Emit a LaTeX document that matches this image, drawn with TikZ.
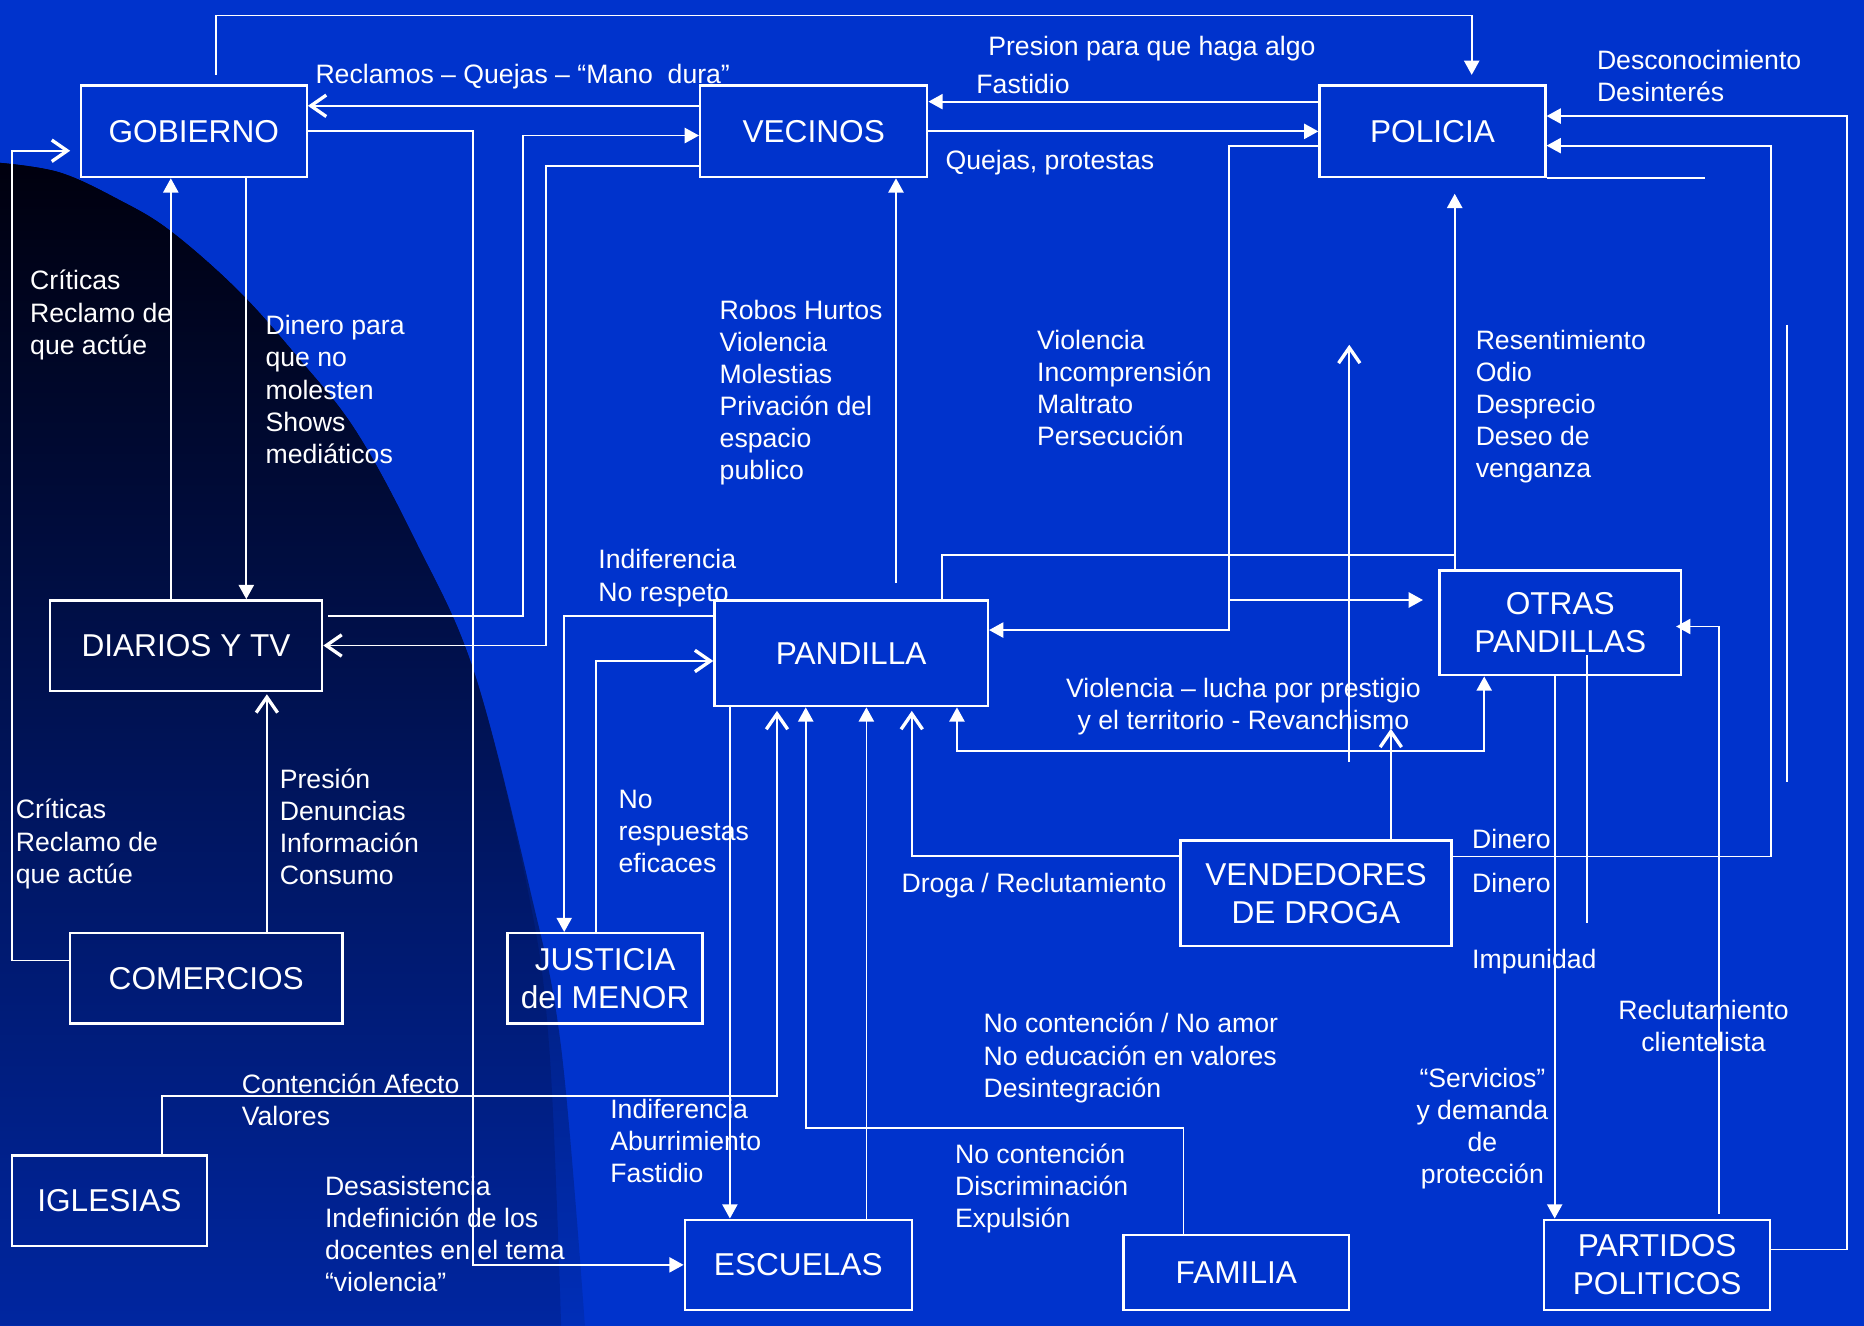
\documentclass[tikz,border=0pt]{standalone}
\usepackage{fontspec}
\setmainfont{Liberation Sans}
\usetikzlibrary{arrows.meta}
\definecolor{bgblue}{RGB}{0,51,204}
\definecolor{darkA}{RGB}{0,0,14}
\definecolor{darkB}{RGB}{0,18,82}
\definecolor{darkC}{RGB}{0,46,184}
\definecolor{darkD}{RGB}{0,38,160}
\tikzset{
  box/.style={draw=white, line width=1pt, text=white, align=center, inner sep=0pt,
    font=\fontsize{13.3}{16}\selectfont},
  lbl/.style={anchor=north west, inner sep=0pt, align=left, text=white,
    font=\fontsize{11.2}{13.5}\selectfont},
  lblc/.style={anchor=north, inner sep=0pt, align=center, text=white,
    font=\fontsize{11.2}{13.5}\selectfont},
  conn/.style={draw=white, line width=0.75pt},
  fa/.style={conn, -{Triangle[length=6pt,width=6.4pt]}},
  fab/.style={conn, {Triangle[length=6pt,width=6.4pt]}-{Triangle[length=6pt,width=6.4pt]}},
  oa/.style={conn, -{Straight Barb[length=6.5pt,width=9pt,line width=1.4pt]}}
}
\begin{document}
\begin{tikzpicture}[x=0.5pt,y=-0.5pt]
\useasboundingbox (0,0) rectangle (1568,1115);
\fill[bgblue] (0,0) rectangle (1568,1115);
\shade[top color=darkA, middle color=darkB, bottom color=darkC]
  plot[smooth, tension=0.6] coordinates {(0,137) (50,145) (100,168) (143,194) (200,244) (250,300) (299,362) (349,454) (399,566) (446,749) (472,881) (492,1115)}
  -- (0,1115) -- cycle;
\shade[top color=darkA, middle color=darkB, bottom color=darkD]
  plot[smooth, tension=0.6] coordinates {(0,137) (50,145) (100,168) (143,194) (200,244) (250,300) (299,362) (349,454) (399,566) (444,749) (462,881) (472,1115)}
  -- (0,1115) -- cycle;

% boxes
\node[box, minimum width=95pt,   minimum height=38.5pt] (gob) at (163,110.5) {GOBIERNO};
\node[box, minimum width=95.5pt, minimum height=38.5pt] (vec) at (684.5,110.5) {VECINOS};
\node[box, minimum width=95pt,   minimum height=38.5pt] (pol) at (1205,110.5) {POLICIA};
\node[box, minimum width=114.5pt, minimum height=38pt] (dia) at (156.5,543) {DIARIOS Y TV};
\node[box, minimum width=115pt,  minimum height=44.5pt] (pan) at (716,549.5) {PANDILLA};
\node[box, minimum width=101.5pt, minimum height=44pt] (otr) at (1312.5,524) {OTRAS\\PANDILLAS};
\node[box, minimum width=114pt,  minimum height=44.5pt] (ven) at (1107,751.5) {VENDEDORES\\DE DROGA};
\node[box, minimum width=114.5pt, minimum height=38pt] (com) at (173.5,823) {COMERCIOS};
\node[box, minimum width=82pt,   minimum height=38pt] (jus) at (509,823) {JUSTICIA\\del MENOR};
\node[box, minimum width=82pt,   minimum height=38pt] (igl) at (92,1010) {IGLESIAS};
\node[box, minimum width=95.5pt, minimum height=38pt] (esc) at (671.5,1064) {ESCUELAS};
\node[box, minimum width=95pt,   minimum height=31.5pt] (fam) at (1040,1070.5) {FAMILIA};
\node[box, minimum width=95pt,   minimum height=38pt] (par) at (1394,1064) {PARTIDOS\\POLITICOS};

% free ends
\coordinate (brA) at (1034,504.7);
\coordinate (s1a) at (1135,641);
\coordinate (s1b) at (1135,290);
\coordinate (s2a) at (1503,273);
\coordinate (s2b) at (1503,658);
\coordinate (s3a) at (1335,551);
\coordinate (s3b) at (1335,776);

% connectors
\draw[fa] ([xshift=9.5pt,yshift=4pt]gob.north) -- ++(0,-50) -| ([xshift=16.5pt,yshift=4pt]pol.north);
\draw[fa] ([yshift=12.5pt]pol.west) -- ([yshift=12.5pt]vec.east);
\draw[fa] (vec.east) -- (pol.west);
\draw[oa] ([yshift=10.75pt]vec.west) -- ([yshift=10.75pt]gob.east);
\draw[fa] (gob.east) -- (398,110.5) |- (esc.west);
\draw[fa] ([xshift=2pt,yshift=12.5pt]dia.east) -- (440,518) |- ([yshift=-1.75pt]vec.west);
\draw[oa] ([yshift=-14.5pt]vec.west) -- (459,139.5) |- (dia.east);
\draw[fa] ([xshift=-6.4pt]dia.north) -- ([xshift=-6.4pt]dia.north |- gob.south);
\draw[fa] ([xshift=22.1pt]gob.south) -- ([xshift=22.1pt]gob.south |- dia.north);
\draw[oa] ([yshift=7.5pt]com.west) -- (10,808) |- ([xshift=-4pt,yshift=-8.15pt]gob.west);
\draw[oa] ([xshift=25.5pt]com.north) -- ([xshift=25.5pt,yshift=-1pt]com.north |- dia.south);
\draw[fa] ([xshift=18.85pt,yshift=6.75pt]pan.north) -- ([xshift=18.85pt]pan.north |- vec.south);
\draw[fa] ([yshift=-6.25pt]pol.west) -- (1034,123) |- ([yshift=9.75pt]pan.east);
\draw[fa] (brA) -- ([xshift=-6.5pt,yshift=9.65pt]otr.west);
\draw[fa] ([xshift=-44.4pt]otr.north) -- ([xshift=9.35pt,yshift=-6.5pt]pol.south);
\draw[conn] ([xshift=38.25pt]pan.north) |- (1223.7,467);
\draw[oa] (s1a) -- (s1b);
\draw[fab] ([xshift=44.5pt]pan.south) |- (1248.5,632) -| ([xshift=-32pt]otr.south);
\draw[oa] ([xshift=31.5pt]ven.north) -- ++(0,-93);
\draw[oa] ([yshift=15.75pt]ven.west) -| ([xshift=25.5pt,yshift=-1.5pt]pan.south);
\draw[fa] ([yshift=15.5pt]ven.east) -- (1490,720.5) |- ([yshift=-6pt]pol.east);
\draw[fa] ([yshift=6.5pt]par.east) -- (1554,1051) |- ([yshift=6.45pt]pol.east);
\draw[conn] (pol.south east) -- ++(133,0);
\draw[conn] (s2a) -- (s2b);
\draw[fa] ([xshift=-2.35pt]otr.south) -- ([xshift=-2.35pt]otr.south |- par.north);
\draw[conn] (s3a) -- (s3b);
\draw[fa] ([xshift=26pt,yshift=2pt]par.north) |- ([xshift=-2.5pt,yshift=-1.5pt]otr.east);
\draw[fa] ([yshift=15.75pt]pan.west) -| ([xshift=-17.2pt]jus.north);
\draw[oa] ([xshift=-3.7pt]jus.north) |- ([yshift=-3.25pt]pan.west);
\draw[fa] ([xshift=-51pt]pan.south) -- ([xshift=-51pt]pan.south |- esc.north);
\draw[fa] ([xshift=28.65pt]esc.north) -- ([xshift=28.65pt]esc.north |- pan.south);
\draw[oa] ([xshift=22.2pt]igl.north) |- (653.6,922) -- ([xshift=-31.2pt,yshift=-1.5pt]pan.south);
\draw[fa] ([xshift=-22.2pt]fam.north) |- (677.8,949) -- ([xshift=-19.1pt]pan.south);

% labels
\node[lbl] (l1) at (265,54) {Reclamos – Quejas – “Mano~ dura”};
\node[lbl] (l2) at (831,30) {Presion para que haga algo};
\node[lbl] (l3) at (821,62) {Fastidio};
\node[lbl] (l4) at (795,126) {Quejas, protestas};
\node[lbl] (l5) at (1343,42) {Desconocimiento\\Desinterés};
\node[lbl] (l6) at (25,227) {Críticas\\Reclamo de\\que actúe};
\node[lbl] (l7) at (223,265) {Dinero para\\que no\\molesten\\Shows\\mediáticos};
\node[lbl] (l8) at (605,252) {Robos Hurtos\\Violencia\\Molestias\\Privación del\\espacio\\publico};
\node[lbl] (l9) at (872,277) {Violencia\\Incomprensión\\Maltrato\\Persecución};
\node[lbl] (l10) at (1241,277) {Resentimiento\\Odio\\Desprecio\\Deseo de\\venganza};
\node[lbl] (l11) at (503,462) {Indiferencia\\No respeto};
\node[lblc] (l12) at (1046,570) {Violencia – lucha por prestigio\\y el territorio - Revanchismo};
\node[lbl] (l13) at (13,672) {Críticas\\Reclamo de\\que actúe};
\node[lbl] (l14) at (235,646) {Presión\\Denuncias\\Información\\Consumo};
\node[lbl] (l15) at (520,664) {No\\respuestas\\eficaces};
\node[lbl] (l16) at (758,734) {Droga / Reclutamiento};
\node[lbl] (l17) at (1238,697) {Dinero};
\node[lbl] (l18) at (1238,734) {Dinero};
\node[lbl] (l19) at (1238,798) {Impunidad};
\node[lblc] (l20) at (1433,841) {Reclutamiento\\clientelista};
\node[lbl] (l21) at (827,852) {No contención / No amor\\No educación en valores\\Desintegración};
\node[lblc] (l22) at (1247,898) {“Servicios”\\y demanda\\de\\protección};
\node[lbl] (l23) at (203,903) {Contención Afecto\\Valores};
\node[lbl] (l24) at (513,924) {Indiferencia\\Aburrimiento\\Fastidio};
\node[lbl] (l25) at (803,962) {No contención\\Discriminación\\Expulsión};
\node[lbl] (l26) at (273,989) {Desasistencia\\Indefinición de los\\docentes en el tema\\“violencia”};
\end{tikzpicture}
\end{document}
